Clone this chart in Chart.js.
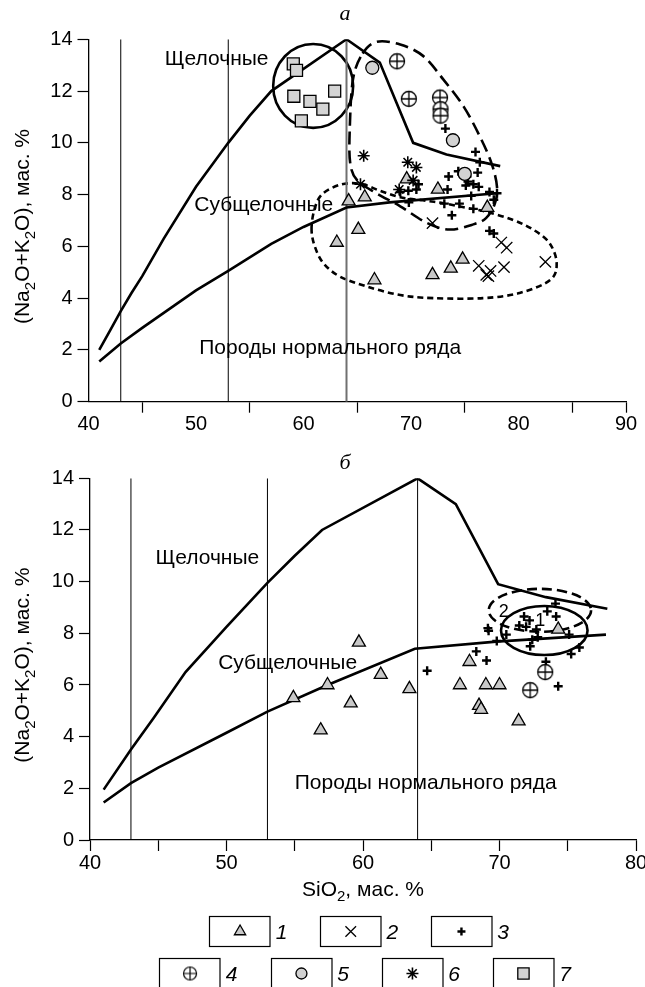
<!DOCTYPE html>
<html>
<head>
<meta charset="utf-8">
<script src="https://cdn.jsdelivr.net/npm/chart.js"></script>
<style>
  html, body { margin: 0; padding: 0; background: #fff; }
  body { width: 645px; height: 987px; position: relative; overflow: hidden; }
  canvas { position: absolute; left: 0; }
  #chartA { top: 0; }
  #chartB { top: 440px; }
</style>
</head>
<body>
<canvas id="chartA" width="645" height="440"></canvas>
<canvas id="chartB" width="645" height="547"></canvas>
<script>
// ---------- data: SiO2 (x) vs Na2O+K2O (y), wt. % ----------
const yTickStep = 2;
const yRange = [0, 14];
const xRangeA = [40, 90];
const xRangeB = [40, 80];
const xTickStep = 5;

// panel а — samples by group
const aTriangles = [[64.2,7.75],[65.7,7.9],[69.6,8.6],[72.5,8.2],[77.1,7.5],[65.1,6.65],[63.1,6.15],
                    [66.6,4.7],[72.0,4.9],[73.7,5.15],[74.8,5.5]];
const aCrosses = [[72.0,6.9],[78.4,6.15],[78.9,5.95],[76.3,5.25],[77.4,5.05],[77.0,4.9],[77.2,4.85],
                  [78.65,5.2],[82.5,5.4]];
const aPluses = [[73.2,10.55],[76.0,9.65],[76.4,9.25],[73.5,8.7],[74.4,8.9],[76.2,8.85],[75.2,8.7],
                 [75.3,8.5],[75.8,8.4],[76.3,8.3],[73.4,8.2],[75.1,8.35],[77.3,8.1],[78.0,8.05],
                 [77.7,7.8],[75.6,7.95],[75.8,7.45],[73.1,7.65],[74.5,7.65],[73.8,7.2],[69.8,7.7],
                 [69.75,8.15],[70.5,8.2],[69.0,8.1],[70.7,8.4],[77.3,6.6],[77.7,6.5]];
const aCrossedCircles = [[68.7,13.15],[69.8,11.7],[72.7,11.75],[72.75,11.3],[72.75,11.05]];
const aCircles = [[66.4,12.9],[73.9,10.1],[75.0,8.8]];
const aStars = [[65.6,9.5],[69.7,9.25],[70.5,9.05],[70.2,8.55],[65.3,8.4],[68.9,8.2]];
const aSquares = [[59.05,13.05],[59.35,12.8],[59.1,11.8],[60.6,11.6],[61.8,11.3],[62.9,12.0],[59.8,10.85]];

// panel б — samples by group
const bTriangles = [[59.7,7.65],[54.9,5.5],[57.4,6.0],[61.3,6.4],[59.1,5.3],[63.4,5.85],[56.9,4.25],
                    [67.8,6.9],[67.1,6.0],[69.0,6.0],[70.0,6.0],[68.5,5.2],[68.65,5.05],[74.3,8.15],
                    [71.4,4.6]];
const bPluses = [[74.1,9.15],[73.5,8.85],[74.15,8.65],[71.8,8.65],[72.2,8.5],[71.45,8.3],[71.95,8.25],
                 [72.7,8.15],[72.8,7.85],[72.4,7.75],[72.25,7.5],[75.1,7.95],[70.5,7.95],[69.8,7.7],
                 [69.15,8.2],[69.2,8.1],[68.3,7.3],[69.05,6.95],[75.25,7.2],[75.85,7.45],[73.4,6.9],
                 [74.3,5.95],[64.7,6.55]];
const bCrossedCircles = [[73.35,6.5],[72.25,5.8]];

// classification boundaries
const aUpperBound = [[41,2.0],[42,2.75],[43,3.5],[44,4.2],[45,4.85],[47,6.3],[50,8.3],[53,10.0],
                     [55,11.05],[57,12.0],[64,14.0],[67.1,13.1],[70.2,10.0],[73.3,9.55],[78.3,9.1]];
const aLowerBound = [[41,1.55],[43,2.25],[45,2.85],[50,4.3],[53,5.05],[57,6.1],[60,6.75],[64,7.5],
                     [68,7.7],[78,8.05]];
const bUpperBound = [[41,1.95],[43,3.5],[44.7,4.75],[47,6.5],[50,8.25],[53,9.95],[55,11.0],[57,12.0],
                     [64,14.0],[66.8,13.0],[69.9,9.9],[73.4,9.4],[77.9,8.95]];
const bLowerBound = [[41,1.45],[43,2.2],[45,2.8],[50,4.15],[53,4.97],[57.4,6.0],[63.8,7.4],
                     [69.75,7.68],[77.8,7.95]];
const siliceBounds = [43, 53, 64];

// group outlines (data units)
const aAlkaliRing = [60.9, 12.2, 3.72, 1.62];          // centre x, centre y, half-width, half-height
const aUpperOutline = [[65.5,13.45],[66.8,13.9],[69.0,13.8],[71.15,13.35],[73.0,12.45],[74.9,11.4],
                       [76.4,10.25],[77.5,9.2],[78.0,8.3],[77.8,7.65],[77.0,7.1],[75.8,6.85],
                       [73.6,6.65],[71.5,6.9],[69.0,7.55],[66.8,8.05],[65.0,8.55],[64.35,9.2],
                       [64.3,10.5],[64.6,12.45]];
const aLowerOutline = [[60.75,6.65],[61.0,7.4],[61.7,8.0],[63.4,8.38],[65.3,8.42],[67.1,8.15],
                       [69.0,7.9],[71.1,7.78],[73.0,7.67],[75.0,7.5],[77.0,7.34],[79.5,7.02],
                       [81.4,6.64],[82.9,6.12],[83.55,5.35],[82.95,4.7],[80.1,4.2],[76.7,4.0],
                       [72.1,4.0],[69.0,4.12],[65.9,4.45],[63.4,4.83],[61.85,5.35],[61.05,6.0]];
const bField1 = [73.28, 8.11, 3.17, 0.95];
const bField2 = [72.96, 8.89, 3.75, 0.83];

// ---------- drawing helpers ----------
const SANS = "'Liberation Sans', Arial, Helvetica, sans-serif";
const SERIF = "'Liberation Serif', 'Times New Roman', serif";
const TXT = 21;
const TICK_TXT = 20;

function crossedCircle(r, lw) {
  const s = Math.ceil(2 * r + lw + 3);
  const c = document.createElement('canvas');
  c.width = s; c.height = s;
  const g = c.getContext('2d');
  const m = s / 2;
  g.beginPath(); g.arc(m, m, r, 0, 2 * Math.PI);
  g.fillStyle = '#fff'; g.fill();
  g.lineWidth = lw; g.strokeStyle = '#000'; g.stroke();
  g.beginPath();
  g.moveTo(m - r, m); g.lineTo(m + r, m);
  g.moveTo(m, m - r); g.lineTo(m, m + r);
  g.stroke();
  return c;
}

const MARKERS = {
  tri:    { pointStyle: 'triangle', pointRadius: 7.5, pointBackgroundColor: '#c8c8c8', pointBorderColor: '#000', pointBorderWidth: 1.3 },
  xmark:  { pointStyle: 'crossRot', pointRadius: 8, pointBorderColor: '#000', pointBorderWidth: 1.3 },
  plus:   { pointStyle: 'cross', pointRadius: 4.5, pointBorderColor: '#000', pointBorderWidth: 2.4 },
  ocross: { pointStyle: crossedCircle(7.5, 1.3), pointRadius: 8 },
  circ:   { pointStyle: 'circle', pointRadius: 6.5, pointBackgroundColor: '#d2d2d2', pointBorderColor: '#000', pointBorderWidth: 1.3 },
  star:   { pointStyle: 'star', pointRadius: 6, pointBorderColor: '#000', pointBorderWidth: 1.6 },
  sq:     { pointStyle: 'rect', pointRadius: 8.5, pointBackgroundColor: '#d4d4d4', pointBorderColor: '#000', pointBorderWidth: 1.3 }
};

const LINES = {
  bound: { borderColor: '#000', borderWidth: 2.6 },
  vert:  { borderColor: '#000', borderWidth: 1 },
  vertGray: { borderColor: '#707070', borderWidth: 2 }
};

function toXY(arr) { return arr.map(p => ({ x: p[0], y: p[1] })); }

function drawRich(ctx, parts, x, y, size, angle) {
  ctx.save();
  ctx.translate(x, y);
  ctx.rotate(angle || 0);
  const sub = Math.round(size * 0.7);
  let w = 0;
  const items = parts.map(p => {
    const isSub = p[1] === 1;
    ctx.font = (isSub ? sub : size) + 'px ' + SANS;
    const pw = ctx.measureText(p[0]).width;
    w += pw;
    return { t: p[0], sub: isSub, w: pw };
  });
  let cx = -w / 2;
  ctx.fillStyle = '#000';
  ctx.textBaseline = 'alphabetic';
  items.forEach(it => {
    ctx.font = (it.sub ? sub : size) + 'px ' + SANS;
    ctx.fillText(it.t, cx, size * 0.36 + (it.sub ? size * 0.28 : 0));
    cx += it.w;
  });
  ctx.restore();
}

function strokeClosedCurve(ctx, px) {
  const n = px.length;
  ctx.beginPath();
  ctx.moveTo(px[0][0], px[0][1]);
  for (let i = 0; i < n; i++) {
    const p0 = px[(i - 1 + n) % n], p1 = px[i], p2 = px[(i + 1) % n], p3 = px[(i + 2) % n];
    ctx.bezierCurveTo(
      p1[0] + (p2[0] - p0[0]) / 6, p1[1] + (p2[1] - p0[1]) / 6,
      p2[0] - (p3[0] - p1[0]) / 6, p2[1] - (p3[1] - p1[1]) / 6,
      p2[0], p2[1]);
  }
  ctx.closePath();
  ctx.stroke();
}

const Y_TITLE = [['(Na'], ['2', 1], ['O+K'], ['2', 1], ['O), мас. %']];
const X_TITLE = [['SiO'], ['2', 1], [', мас. %']];

function decorPlugin(spec) {
  return {
    id: 'decor',
    beforeDatasetsDraw(chart) {
      const ctx = chart.ctx, xs = chart.scales.x, ys = chart.scales.y, a = chart.chartArea;
      ctx.save();
      ctx.beginPath(); ctx.rect(a.left, a.top - 4, a.right - a.left, a.bottom - a.top + 4); ctx.clip();
      ctx.strokeStyle = '#000';
      ctx.lineWidth = 2.6;
      spec.rings.forEach(r => {
        const e = r.e;
        const cx = xs.getPixelForValue(e[0]), cy = ys.getPixelForValue(e[1]);
        const rx = Math.abs(xs.getPixelForValue(e[0] + e[2]) - cx);
        const ry = Math.abs(ys.getPixelForValue(e[1] + e[3]) - cy);
        ctx.setLineDash(r.dash || []);
        ctx.beginPath(); ctx.ellipse(cx, cy, rx, ry, 0, 0, 2 * Math.PI); ctx.stroke();
      });
      spec.outlines.forEach(o => {
        ctx.setLineDash(o.dash || []);
        strokeClosedCurve(ctx, o.pts.map(p => [xs.getPixelForValue(p[0]), ys.getPixelForValue(p[1])]));
      });
      ctx.restore();
    },
    afterDraw(chart) {
      const ctx = chart.ctx, xs = chart.scales.x, ys = chart.scales.y, a = chart.chartArea;
      ctx.save();
      ctx.fillStyle = '#000';
      ctx.textBaseline = 'alphabetic';
      spec.labels.forEach(l => {
        ctx.font = (l.size || TXT) + 'px ' + SANS;
        ctx.textAlign = l.align || 'left';
        ctx.fillText(l.t, xs.getPixelForValue(l.x), ys.getPixelForValue(l.y) + (l.size || TXT) * 0.36);
      });
      // panel letter
      ctx.font = 'italic 22px ' + SERIF;
      ctx.textAlign = 'center';
      ctx.fillText(spec.letter, spec.letterPos[0], spec.letterPos[1]);
      ctx.restore();
      drawRich(ctx, Y_TITLE, 21.5, (a.top + a.bottom) / 2 + 6, TXT, -Math.PI / 2);
      if (spec.xTitle) drawRich(ctx, X_TITLE, spec.xTitle[0], spec.xTitle[1], TXT, 0);
      if (spec.legend) spec.legend(ctx);
    }
  };
}

function buildPanel(canvasId, p) {
  const canvas = document.getElementById(canvasId);
  const W = canvas.width, H = canvas.height;
  const datasets = [];
  p.marks.forEach(m => datasets.push(Object.assign({ data: toXY(m[0]), showLine: false, order: 0 }, MARKERS[m[1]])));
  p.lines.forEach(l => datasets.push(Object.assign({ data: toXY(l[0]), showLine: true, pointRadius: 0, fill: false, tension: 0, order: 5 }, LINES[l[1]])));
  siliceBounds.forEach((v, i) => datasets.push(Object.assign({
    data: [{ x: v, y: yRange[0] }, { x: v, y: yRange[1] }], showLine: true, pointRadius: 0, tension: 0, order: 6
  }, LINES[p.vertStyles[i]])));

  return new Chart(canvas, {
    type: 'scatter',
    data: { datasets },
    options: {
      responsive: false, animation: false, devicePixelRatio: 1,
      layout: { padding: { left: 0, top: p.area.top, right: W - p.area.right, bottom: 0 } },
      plugins: { legend: { display: false }, tooltip: { enabled: false } },
      scales: {
        x: {
          type: 'linear', min: p.xRange[0], max: p.xRange[1],
          afterFit(s) { s.height = H - p.area.bottom; s.paddingLeft = 0; s.paddingRight = 0; },
          ticks: {
            stepSize: xTickStep, autoSkip: false, maxRotation: 0, padding: 0,
            color: '#000', font: { family: SANS, size: TICK_TXT },
            callback: v => (v % 10 === 0 ? String(v) : '')
          },
          grid: {
            drawOnChartArea: false, drawTicks: true, tickLength: 11, tickWidth: 1.2,
            tickColor: c => (p.hideTenTicks && c.tick && c.tick.value % 10 === 0 && c.tick.value !== p.xRange[1]) ? 'rgba(0,0,0,0)' : '#000'
          },
          border: { display: true, color: '#000', width: 1.3 }
        },
        y: {
          type: 'linear', min: yRange[0], max: yRange[1],
          afterFit(s) { s.width = p.area.left; s.paddingTop = 0; s.paddingBottom = 0; },
          ticks: { stepSize: yTickStep, padding: 5, color: '#000', font: { family: SANS, size: TICK_TXT } },
          grid: { drawOnChartArea: false, drawTicks: true, tickLength: 11, tickWidth: 1.2, tickColor: '#000' },
          border: { display: true, color: '#000', width: 1.3 }
        }
      }
    },
    plugins: [decorPlugin(p.decor)]
  });
}

// ---------- legend (drawn below panel б) ----------
const legendItems = [['tri', '1'], ['xmark', '2'], ['plus', '3'], ['ocross', '4'], ['circ', '5'], ['star', '6'], ['sq', '7']];
const legendRadius = { tri: 6.5, xmark: 7.5, plus: 4, ocross: 7, circ: 5.5, star: 6, sq: 8 };
const legendSlots = [[209.3, 476], [320, 476], [430.7, 476], [159.3, 518], [270.7, 518], [381.7, 518], [492.7, 518]];

function drawLegend(ctx) {
  const BW = 60.5, BH = 30;
  legendItems.forEach((it, i) => {
    const [x, y] = legendSlots[i];
    ctx.save();
    ctx.lineWidth = 1.2; ctx.strokeStyle = '#000';
    ctx.strokeRect(Math.round(x) + 0.5, Math.round(y) + 0.5, BW, BH);
    const m = MARKERS[it[0]];
    ctx.fillStyle = m.pointBackgroundColor || 'rgba(0,0,0,0)';
    ctx.strokeStyle = m.pointBorderColor || '#000';
    ctx.lineWidth = m.pointBorderWidth || 1.3;
    const opts = { pointStyle: it[0] === 'ocross' ? crossedCircle(6.5, 1.2) : m.pointStyle,
                   radius: legendRadius[it[0]], borderWidth: ctx.lineWidth, rotation: 0 };
    Chart.helpers.drawPoint(ctx, opts, x + BW / 2 + 0.5, y + BH / 2 + 0.5);
    ctx.fillStyle = '#000';
    ctx.font = 'italic ' + TXT + 'px ' + SANS;
    ctx.textAlign = 'left'; ctx.textBaseline = 'alphabetic';
    ctx.fillText(it[1], x + BW + 6, y + BH / 2 + 7.5);
    ctx.restore();
  });
}

// ---------- panels ----------
buildPanel('chartA', {
  xRange: xRangeA,
  area: { left: 88.5, right: 626, top: 39.3, bottom: 401.7 },
  hideTenTicks: true,
  marks: [[aSquares, 'sq'], [aCircles, 'circ'], [aCrossedCircles, 'ocross'], [aStars, 'star'],
          [aPluses, 'plus'], [aCrosses, 'xmark'], [aTriangles, 'tri']],
  lines: [[aUpperBound, 'bound'], [aLowerBound, 'bound']],
  vertStyles: ['vert', 'vert', 'vertGray'],
  decor: {
    letter: 'а', letterPos: [345, 20],
    rings: [{ e: aAlkaliRing }],
    outlines: [{ pts: aUpperOutline, dash: [13, 6] }, { pts: aLowerOutline, dash: [6, 4] }],
    labels: [
      { t: 'Щелочные', x: 47.1, y: 13.29 },
      { t: 'Субщелочные', x: 49.84, y: 7.64 },
      { t: 'Породы нормального ряда', x: 50.3, y: 2.13 }
    ]
  }
});

buildPanel('chartB', {
  xRange: xRangeB,
  area: { left: 90, right: 636.7, top: 38.3, bottom: 400 },
  hideTenTicks: false,
  marks: [[bCrossedCircles, 'ocross'], [bPluses, 'plus'], [bTriangles, 'tri']],
  lines: [[bUpperBound, 'bound'], [bLowerBound, 'bound']],
  vertStyles: ['vert', 'vert', 'vert'],
  decor: {
    letter: 'б', letterPos: [345, 29],
    rings: [{ e: bField1 }, { e: bField2, dash: [10, 5] }],
    outlines: [],
    labels: [
      { t: 'Щелочные', x: 44.8, y: 10.97 },
      { t: 'Субщелочные', x: 49.39, y: 6.9 },
      { t: 'Породы нормального ряда', x: 55.0, y: 2.26 },
      { t: '2', x: 70.31, y: 8.9, align: 'center', size: 18 },
      { t: '1', x: 72.99, y: 8.52, align: 'center', size: 18 }
    ],
    xTitle: [363, 448],
    legend: drawLegend
  }
});
</script>
</body>
</html>
